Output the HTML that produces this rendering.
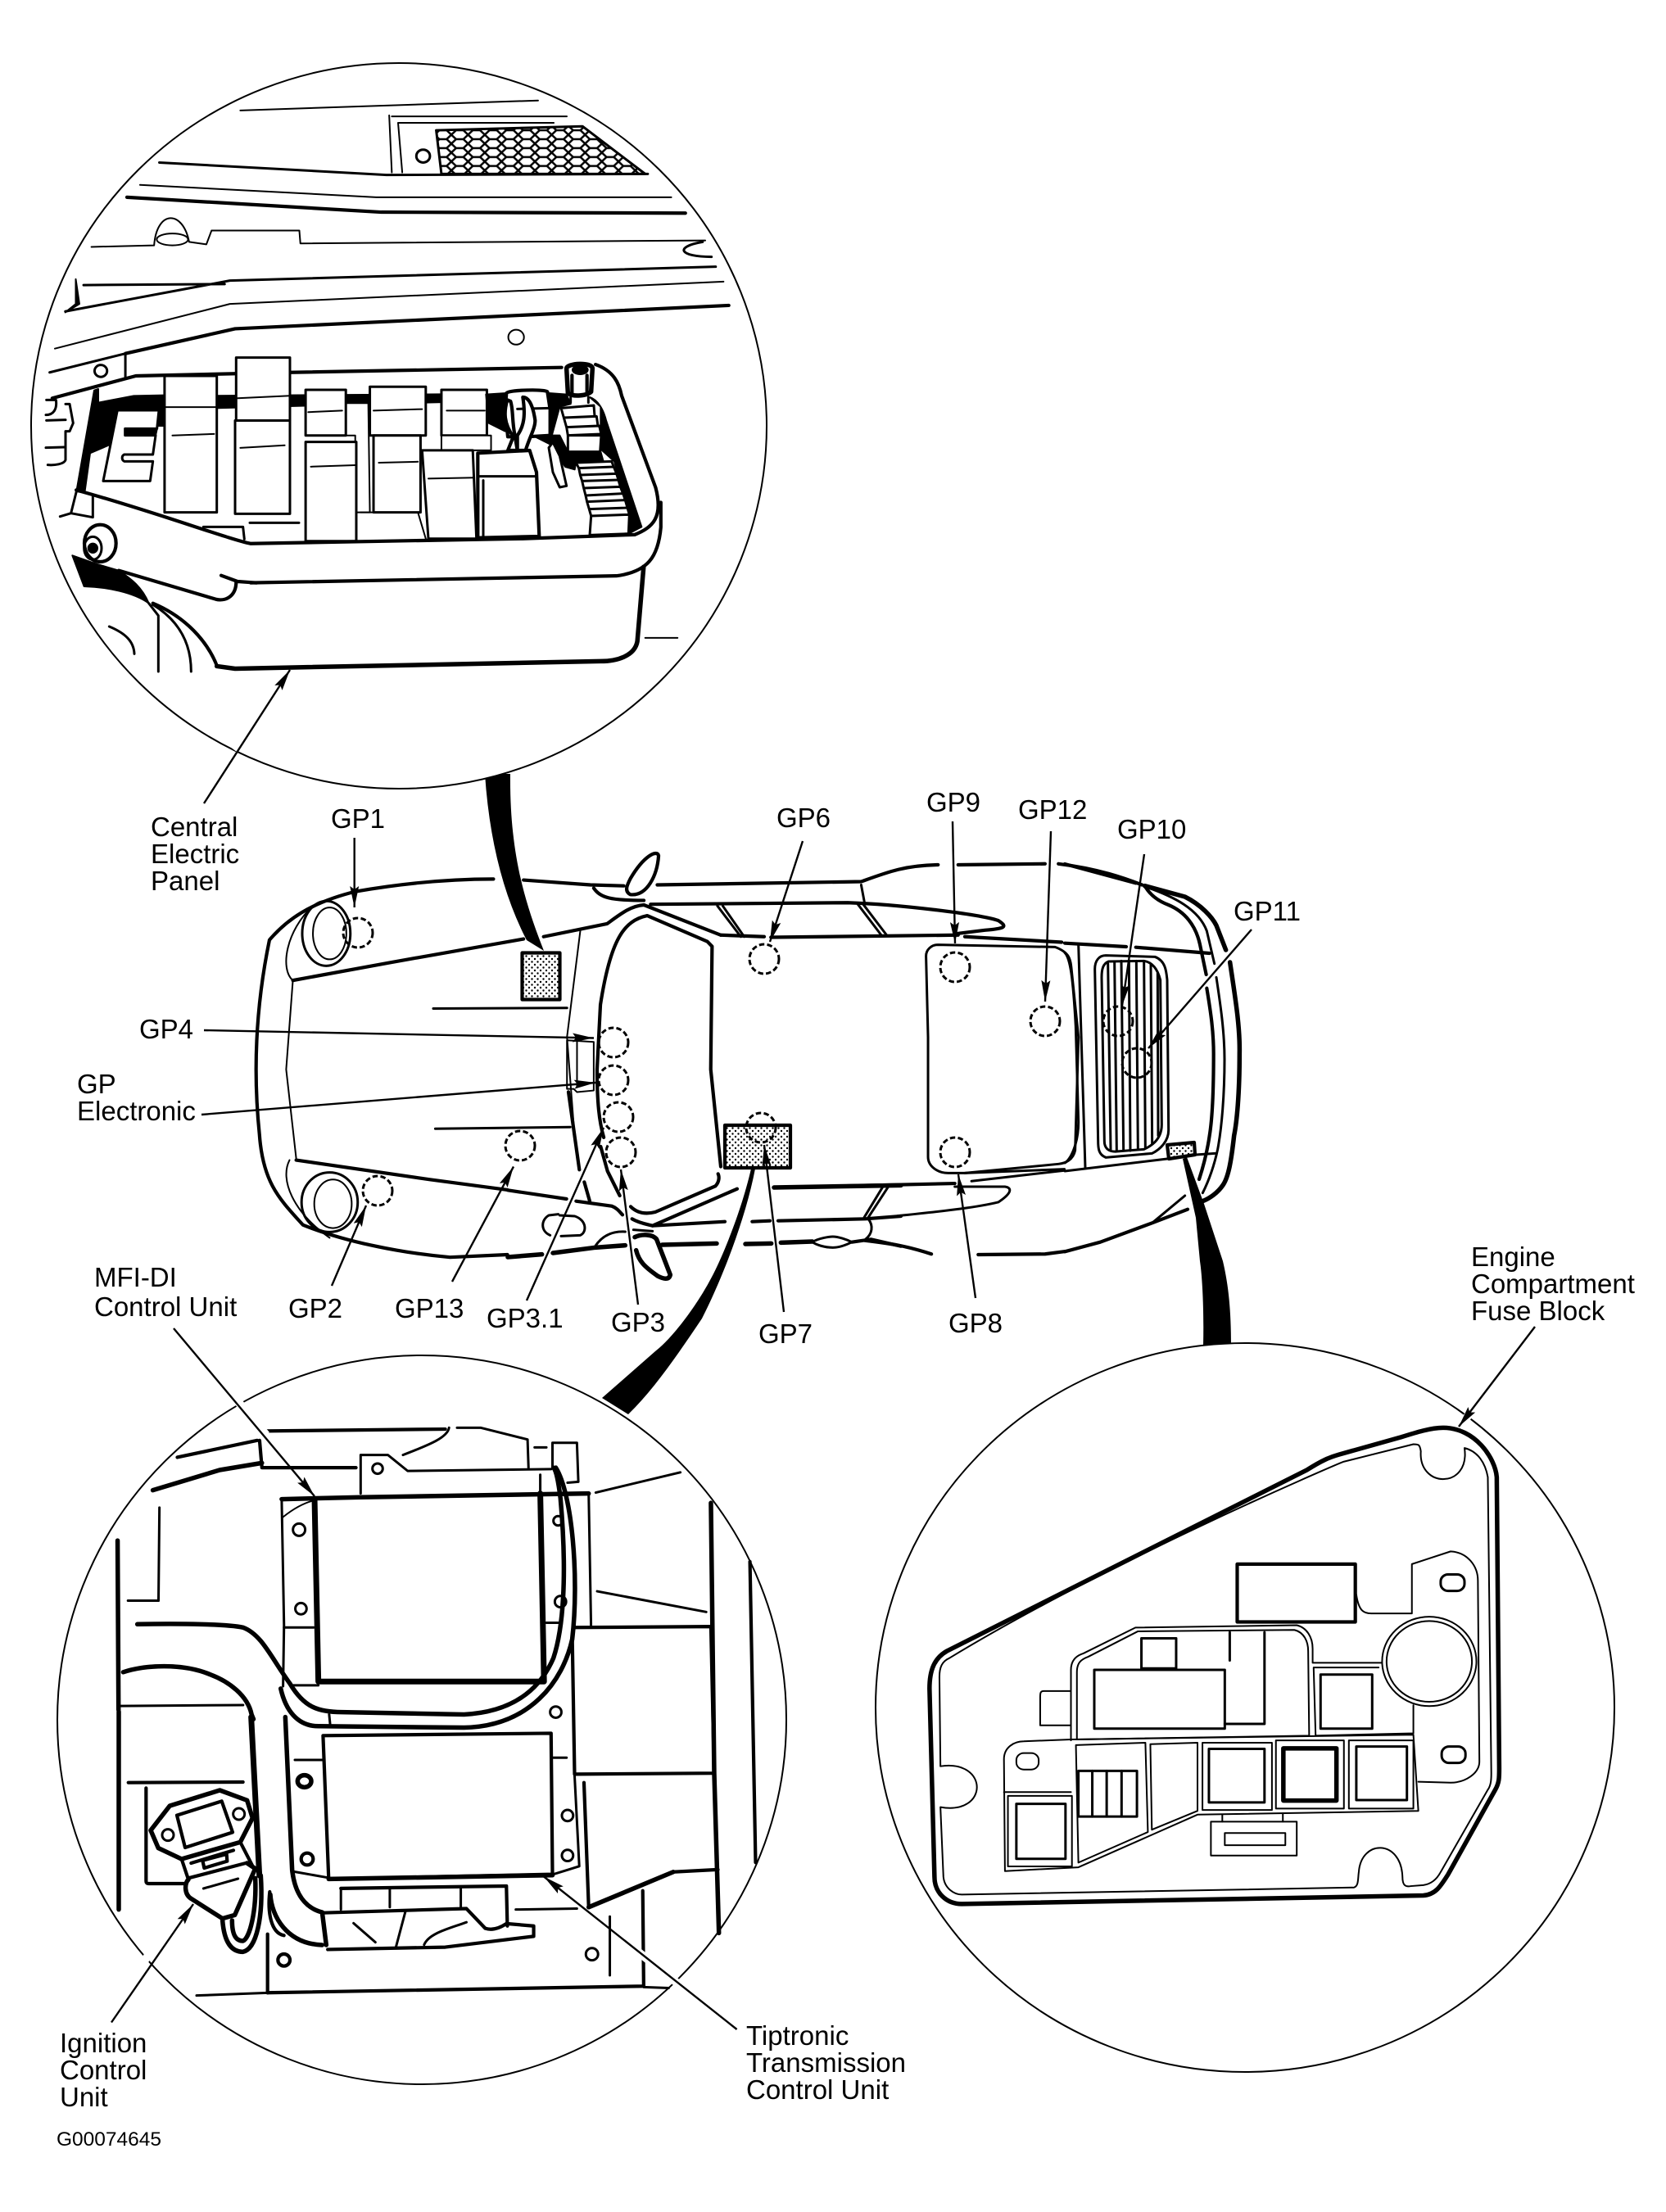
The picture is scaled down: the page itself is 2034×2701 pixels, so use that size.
<!DOCTYPE html>
<html><head><meta charset="utf-8"><style>
html,body{margin:0;padding:0;background:#fff}
svg{display:block}
text{font-family:"Liberation Sans",sans-serif;font-size:33px;fill:#000}
.g *{vector-effect:non-scaling-stroke}
.g path,.g circle,.g ellipse,.g rect,.g line,.g polygon{fill:none;stroke:#000;stroke-width:2;stroke-linejoin:round;stroke-linecap:round}
.g .w{fill:#fff}
.g .b{fill:#000;stroke:#000}
.g .t2{stroke-width:3}
.g .t3{stroke-width:4.2}
.g .t4{stroke-width:5.5}
.g .t5{stroke-width:7}
.g .d{stroke-dasharray:6.5 3.3;stroke-width:3;stroke-linecap:butt}
</style></head><body>
<svg width="2034" height="2701" viewBox="0 0 2034 2701" xmlns="http://www.w3.org/2000/svg">
<defs>
<pattern id="dots" width="7" height="7" patternUnits="userSpaceOnUse"><rect width="7" height="7" fill="#fff"/><circle cx="2" cy="2" r="1.2" fill="#000"/><circle cx="5.5" cy="5.5" r="1.2" fill="#000"/></pattern>
<pattern id="mesh" width="32" height="18" patternUnits="userSpaceOnUse"><rect width="32" height="18" fill="#fff"/><path d="M0 9L9 0L23 0L32 9L23 18L9 18Z" fill="#fff" stroke="#000" stroke-width="4"/></pattern>
<marker id="ah" markerUnits="userSpaceOnUse" markerWidth="28" markerHeight="14" refX="26" refY="7" orient="auto"><path d="M0 1.5L26 7L0 12.5L4 7Z" fill="#000"/></marker>
</defs>
<rect width="2034" height="2701" fill="#fff"/>

<!-- Thick connecting bands -->
<path d="M592,945 Q600,1065 643,1148 L664,1161 C640,1100 622,1040 623,945Z" fill="#000"/>
<path d="M917,1427 C905,1480 880,1540 867,1563 C850,1595 820,1635 800,1650 L735,1707 L767,1727 C800,1695 830,1650 857,1610 C880,1565 910,1490 922,1427Z" fill="#000"/>
<path d="M1444,1415 L1449,1413 L1470,1470 L1493,1540 C1500,1570 1503,1600 1503,1643 L1469,1643 C1470,1600 1468,1560 1465,1540 L1460,1487Z" fill="#000"/>

<!-- Circles -->
<g class="g">
<ellipse class="w" cx="487" cy="520" rx="449" ry="443"/>
<circle class="w" cx="515" cy="2100" r="445"/>
<ellipse class="w" cx="1520" cy="2085" rx="451" ry="445"/>
</g>

<!-- Circle 1 detail -->
<g class="g" transform="translate(0,50) scale(.6378,.6059)">
<path d="M460,140L1030,120"/>
<path d="M750,152L1085,152M745,150L750,265M762,165L1060,165M762,165L770,265"/>
<polygon points="835,180 1115,172 1235,268 845,268" style="fill:url(#mesh)" class="t2"/>
<circle cx="810" cy="232" r="13" class="t2"/>
<path d="M305,245L740,270L1240,268" class="t2"/>
<path d="M268,290L720,315L1285,315"/>
<path d="M243,315L730,345L1312,347" class="t3"/>
<path d="M175,415L295,412C300,340 350,340 362,405L395,410L405,382L573,382L575,408L1350,402"/>
<ellipse cx="330" cy="400" rx="30" ry="12"/>
<path d="M1345,405C1290,415 1300,435 1362,435" class="t2"/>
<path d="M160,492L430,490M125,545L440,483L1370,455" class="t2"/>
<path d="M105,620L440,530L1385,485"/>
<path d="M240,630L450,580L1395,533" class="t3"/>
<path d="M95,668L240,630L240,678" class="t2"/>
<polygon points="125,547 145,530 145,480 152,530" class="b"/>
<circle cx="988" cy="597" r="15"/><circle cx="193" cy="665" r="12" class="t2"/>
<path d="M100,720L260,675L555,668L1075,658" class="t3"/>
<path d="M410,715L845,712L845,728L410,740Z" class="b"/>
<path d="M315,675L415,675L415,950L315,950Z" class="w t2"/><path d="M315,738L415,738M330,795L410,792"/>
<path d="M452,638L555,638L555,765L452,765Z" class="w t2"/><path d="M455,720L555,715"/>
<path d="M450,765L555,765L555,953L450,953Z" class="w t2"/><path d="M460,820L545,815"/>
<path d="M662,730L705,730L708,950L680,950L680,795L662,795Z" class="w"/>
<path d="M585,703L662,703L662,795L585,795Z" class="w t2"/><path d="M590,748L655,745"/>
<path d="M585,808L682,808L682,1008L585,1008Z" class="w t2"/><path d="M595,858L680,855"/>
<path d="M690,950L800,950L815,1003"/>
<path d="M708,697L815,697L815,795L708,795Z" class="w t2"/><path d="M715,745L808,742"/>
<path d="M715,795L805,795L805,950L715,950Z" class="w t2"/><path d="M725,850L800,848"/>
<path d="M845,703L932,703L932,795L845,795Z" class="w t2"/><path d="M855,745L928,745"/>
<path d="M845,795L940,795L940,825L845,825Z" class="w"/>
<path d="M808,825L905,825L912,1003L820,1003Z" class="w t2"/><path d="M820,882L908,880"/>
<path d="M1140,652C1175,665 1185,690 1190,715L1255,900C1270,960 1250,980 1215,995L1000,1003L480,1013C440,1005 300,950 146,905" class="t3"/>
<path d="M480,1092L1180,1078C1240,1070 1260,1040 1265,980L1265,930" class="t3"/>
<path d="M1232,1060L1220,1210C1215,1240 1180,1250 1150,1250L450,1265L415,1260" class="t4"/>
<path d="M1235,1203L1297,1203"/>
</g>

<!-- Circle 1: left area override -->
<g class="g" transform="translate(30,400) scale(.33333)">
<path d="M255,230L190,600L220,605L240,460L310,430L340,305L510,295L510,248L400,250L270,275L270,225Z" class="b"/>
<path d="M490,303L510,295L510,360L490,360Z" class="b"/>
<path d="M340,303L492,303L485,370L368,370L368,395L480,395L470,465L365,465C355,470 355,485 365,490L470,490L460,562L288,562Z" class="w t2"/>
<path d="M368,370L485,372L480,395L368,395Z" class="b"/>
<path d="M190,600L170,680L130,692M170,680L250,695L250,620" class="t2"/>
<path d="M655,730L800,730L805,775M825,715L1005,715" class="t2"/>
<ellipse cx="277" cy="790" rx="58" ry="68" class="w t3"/><ellipse cx="250" cy="808" rx="32" ry="42" class="t2"/><circle cx="250" cy="808" r="17" class="b"/>
<path d="M175,835L218,948C300,950 400,970 455,1010C430,950 390,920 345,890L260,865Z" class="b"/>
<path d="M345,890L700,995C730,1003 775,990 775,930M720,908L780,930L850,935" class="t3"/>
<path d="M455,1010L490,1055L490,1260M470,1015C560,1070 610,1150 610,1260" class="t2"/>
<path d="M470,1010C590,1060 670,1150 705,1240" class="t3"/>
<path d="M310,1095C370,1120 400,1150 402,1195" class="t2"/>
<path d="M80,265L115,265C120,300 105,320 78,320M80,340L150,338M150,280L165,280L178,350L165,380L150,380L150,485C145,500 110,505 85,503M78,440L145,438" class="t2"/>
</g>

<!-- Circle 1: right area override -->
<g class="g" transform="translate(560,400) scale(.33333)">
<path d="M100,245L175,240L165,310L170,380L110,350Z" class="b"/>
<path d="M330,240L395,245L410,280L370,290L340,400L250,395L300,300Z" class="b"/>
<path d="M270,395L370,395L400,455L520,455L530,490L430,490L425,520L390,510L340,430Z" class="b"/>
<path d="M480,255C510,265 530,300 540,340L670,730C640,745 625,755 620,755L625,690L570,490L520,445L520,290Z" class="b"/>
<path d="M175,240C180,228 320,225 325,235L335,300L335,395L250,400L180,400L170,300Z" class="w t3"/>
<path d="M215,298L330,295" class="t2"/>
<path d="M178,265C165,310 165,350 200,400L180,450L215,450L205,390C195,340 200,300 190,270Z" class="w t3"/>
<path d="M235,255C250,255 270,270 280,340C280,370 260,400 245,450L215,450L215,395C240,360 245,320 235,255Z" class="w t3"/>
<path d="M70,460L260,450L285,530L295,765L70,770Z" class="w t3"/>
<path d="M75,545L285,545M90,560L90,770" class="t2"/>
<path d="M345,420L370,470L395,580L370,585L345,530L330,440Z" class="w t2"/>
<path d="M375,295L495,285L498,325L385,330ZM385,330L505,325L510,360L395,365ZM395,365L515,360L522,390L400,395ZM400,395L522,395L518,455L400,455Z" class="w t2"/>
<path d="M430,495L560,490L568,510L440,515ZM440,515L568,510L578,535L445,540ZM445,540L578,535L585,558L452,562ZM452,562L585,558L592,583L458,588ZM458,588L592,583L602,608L465,615ZM465,615L602,608L610,632L470,638ZM470,638L610,632L618,660L478,665ZM478,665L618,660L625,685L485,690ZM485,690L625,685L622,755L480,760Z" class="w t2"/>
<path d="M410,255L410,275M475,255L475,275" class="t2"/>
<path d="M395,150C395,130 490,125 490,150L485,235C470,250 420,255 400,240Z" class="w t4"/>
<ellipse cx="445" cy="155" rx="28" ry="16" class="b"/>
<path d="M415,175L415,240M470,175L470,240" class="t3"/>
</g>

<!-- Car -->
<g class="g" transform="translate(280,950) scale(.8163,.3954)">
<path d="M395,312C330,312 260,325 190,350C120,385 85,440 60,500C40,700 35,900 45,1100C50,1250 75,1300 110,1380C170,1430 250,1465 330,1480L416,1472" class="t3"/>
<path d="M440,315L540,330L590,333M640,330L945,320C985,290 1010,270 1060,268M1090,268L1220,265M1240,265C1300,280 1340,310 1365,330" class="t3"/>
<path d="M1250,1462L1220,1470L1120,1472M1050,1470C1020,1450 1000,1440 950,1428" class="t3"/>
<path d="M95,625C75,590 85,470 125,395M90,1180C75,1240 95,1340 150,1420"/>
<path d="M95,625L240,570L440,497M470,490L565,450C585,420 600,395 620,392L735,485" class="t3"/>
<path d="M100,1180L300,1240L416,1272" class="t3"/>
<path d="M95,625L85,900L100,1175"/>
<ellipse cx="145" cy="480" rx="36" ry="100" class="t2"/><ellipse cx="150" cy="480" rx="25" ry="80"/>
<ellipse cx="150" cy="1310" rx="42" ry="92" class="t2"/><ellipse cx="155" cy="1315" rx="28" ry="75"/>
<path d="M625,425C590,440 570,500 555,700L550,900C550,1000 553,1060 560,1110M722,520L720,900L735,1200M722,520L715,505L625,425" class="t3"/>
<path d="M525,470L505,800L515,1070"/>
<path d="M305,712L505,710M308,1083L510,1078" class="t2"/>
<path d="M505,810L545,815L545,965L520,970L515,960L505,960Z"/>
<path d="M520,810L520,955"/>
<path d="M600,310C620,240 640,220 642,240C640,300 625,365 600,360C590,350 595,330 600,310Z" class="w t3"/>
<path d="M545,340C555,370 570,378 620,378M630,390L925,385C1000,390 1120,420 1150,440C1165,460 1160,465 1130,470L1090,480" class="t3"/>
<path d="M735,485L800,490M810,492L1090,485M1100,490L1245,507" class="t3"/>
<path d="M730,395L765,490M738,395L770,490M940,390L975,485M948,390L983,485M945,330L950,385" class="t2"/>
<path d="M1060,515L1235,522C1258,540 1258,560 1260,600L1270,800L1265,1150C1262,1180 1250,1190 1240,1192L1100,1220L1075,1220C1060,1220 1045,1200 1045,1170L1045,800L1042,550C1042,530 1050,515 1060,515Z" class="t2"/>
<path d="M1100,1220L1249,1208M1110,1245L1249,1212" class="t2"/>
<path d="M815,1265L1085,1252" class="t3"/>
<path d="M1085,1262L1160,1262C1170,1265 1172,1280 1150,1310C1120,1325 1080,1335 1000,1352" class="t2"/>
</g>

<!-- Car: lower-mid override -->
<g class="g" transform="translate(620,1300) scale(.33333)">
<path d="M340,300L365,390L410,480" class="t3"/>
<path d="M222,100L262,385" class="t3"/>
<path d="M280,430L300,500" class="t3"/>
<path d="M0,460L215,492M250,500L380,518C400,525 410,540 420,550" class="t3"/>
<path d="M450,520C470,540 500,550 540,540L760,445C775,430 775,410 770,400" class="t3"/>
<path d="M530,590L840,455" class="t3"/>
<path d="M455,565C480,580 510,585 530,590L795,575M895,575L960,572M990,572L1310,565L1440,555" class="t3"/>
<path d="M975,450L1440,442" class="t4"/>
<path d="M1305,560L1375,445M1320,560L1395,445" class="t2"/>
<path d="M1320,565C1340,590 1335,620 1310,640" class="t2"/>
<path d="M0,705L125,695M165,690L320,670L430,662" class="t4"/>
<path d="M320,665C350,620 390,610 430,612M460,605L530,610" class="t2"/>
<path d="M465,632C490,620 530,620 545,640L595,770C590,790 570,785 550,775C500,740 480,720 470,680" class="w t4"/>
<path d="M565,660L765,655M870,657L965,655M1000,652L1115,648" class="t4"/>
<path d="M1115,650C1140,635 1180,630 1190,630C1210,630 1240,640 1260,650C1230,665 1210,670 1190,670C1160,670 1130,660 1115,650Z" class="t2"/>
<path d="M1260,650L1330,640L1440,665" class="t3"/>
<path d="M185,548L150,552C120,570 120,610 155,625M190,552L245,555C290,570 290,615 265,625L195,628" class="t2"/>
</g>

<!-- Car: rear override -->
<g class="g" transform="translate(1300,1020) scale(.33333)">
<path d="M0,105L260,175" class="t3"/>
<path d="M293,185L440,225C500,255 540,300 555,330L590,420M605,465C625,600 642,700 640,800C640,950 630,1050 620,1100C610,1190 600,1250 580,1280C560,1310 530,1330 505,1340" class="t4"/>
<path d="M293,185C310,215 340,240 380,255C440,280 480,330 495,400L518,510M520,560C535,650 545,720 545,800C545,950 540,1040 530,1100C520,1170 505,1220 492,1260" class="t3"/>
<path d="M300,190C400,225 490,270 520,350L548,470M555,520C570,620 585,720 585,820C585,950 575,1070 560,1150C545,1220 525,1270 505,1310" class="t2"/>
<path d="M0,395L225,408M260,410L530,432" class="t3"/>
<path d="M50,400L75,1220" class="t2"/>
<path d="M0,1230L375,1185M480,1170L550,1165" class="t2"/>
<path d="M150,440L330,445C370,460 372,500 375,530L380,1080C380,1120 350,1150 320,1165L150,1180C125,1170 122,1150 122,1120L110,490C110,460 125,440 150,440Z" class="t2"/>
<path d="M160,462C140,470 135,490 135,520L145,1120C145,1150 165,1160 190,1158L290,1150C335,1130 355,1100 355,1060L350,530C340,490 320,465 290,460Z" class="t2"/>
<path d="M158,470L168,1150M182,462L190,1155M207,460L215,1155M235,460L240,1155M262,460L268,1150M290,462L295,1145M315,475L320,1130M340,505L342,1100" class="t2"/>
<path d="M0,430C20,450 30,520 40,700L50,1050C50,1130 20,1190 0,1200" class="t2"/>
<path d="M0,1525L130,1490L320,1420L450,1370" class="t3"/>
<path d="M320,1420L440,1320" class="t2"/>
</g>

<!-- dotted rects -->
<g class="g">
<rect x="637.5" y="1163.5" width="46" height="57" style="fill:url(#dots)" class="t3"/>
<rect x="885" y="1374" width="80" height="52" style="fill:url(#dots)" class="t3"/>
<path d="M1425,1398L1458,1395L1459,1410L1427,1415Z" style="fill:url(#dots)" class="t3"/>
<!-- dashed circles -->
<circle class="d" cx="437" cy="1139" r="18"/>
<circle class="d" cx="933" cy="1171" r="18"/>
<circle class="d" cx="1166" cy="1181" r="18"/>
<circle class="d" cx="1276" cy="1247" r="18"/>
<circle class="d" cx="1365" cy="1247" r="18"/>
<circle class="d" cx="1388" cy="1298" r="18"/>
<circle class="d" cx="749" cy="1273" r="18"/>
<circle class="d" cx="749" cy="1319" r="18"/>
<circle class="d" cx="755" cy="1364" r="18"/>
<circle class="d" cx="758" cy="1407" r="18"/>
<circle class="d" cx="635" cy="1399" r="18"/>
<circle class="d" cx="461" cy="1454" r="18"/>
<circle class="d" cx="929" cy="1377" r="18"/>
<circle class="d" cx="1166" cy="1407" r="18"/>
</g>

<!-- Circle 3 detail -->
<g class="g" transform="translate(50,1640) scale(.574)">
<path d="M475,187L860,183" class="t3"/><path d="M868,180C865,200 830,215 770,238M885,180L935,180L1035,205L1037,265" class="t2"/>
<path d="M290,243L460,207M465,207L470,265L670,265" class="t3"/><path d="M238,313L380,270L470,255" class="t4"/>
<path d="M680,320L680,238L738,238L780,272L1085,268" class="t2"/><circle cx="716" cy="267" r="11" class="t2"/>
<path d="M1050,222L1075,222M1088,265L1088,212L1140,212L1143,295L1120,297M1062,280L1062,315" class="t2"/>
<path d="M512,332L680,328L1165,320" class="t4"/><path d="M512,332L517,600L515,730" class="t2"/>
<path d="M582,335L590,720L1070,720L1062,320" class="t5"/>
<path d="M515,370C540,350 560,340 580,335"/><circle cx="549" cy="397" r="13" class="t2"/><circle cx="553" cy="565" r="12" class="t2"/>
<path d="M517,605L580,605M537,728L590,728M1165,320L1170,600M1180,318L1360,275M1183,528L1415,572" class="t2"/>
<path d="M1135,605L1425,603L1432,915L1135,917L1130,620" class="t3"/>
<path d="M1425,340L1432,915L1442,1255" class="t4"/><path d="M1508,465L1520,1105" class="t3"/>
<path d="M163,420L165,780" class="t4"/><path d="M252,350L250,548L185,548" class="t2"/>
<circle cx="1100" cy="378" r="10" class="t2"/><circle cx="1105" cy="550" r="12" class="t2"/>
<path d="M205,598C300,596 400,598 430,605C470,620 490,670 530,725C560,775 590,785 640,785L900,790C1000,785 1060,740 1090,670C1110,610 1120,500 1105,330C1100,290 1095,270 1090,265" class="t4"/>
<path d="M175,700C220,685 300,680 360,705C400,720 440,750 448,790L452,800" class="t4"/>
<path d="M510,735C520,780 545,815 590,815L900,818C1040,815 1110,720 1130,630C1145,500 1130,320 1095,265" class="t4"/>
<path d="M168,772L430,770M1075,595L1105,595M613,790L615,810" class="t2"/>
<path d="M600,835L1085,830L1088,1130L612,1140Z" class="t3"/>
<path d="M612,1140L1088,1132" class="t4"/>
<path d="M1090,882L1118,882" class="t2"/>
<circle cx="1120" cy="1005" r="12" class="t2"/><circle cx="1120" cy="1090" r="12" class="t2"/><circle cx="1095" cy="785" r="12" class="t2"/>
<path d="M1090,1130L1145,1113L1135,920" class="t2"/>
<path d="M1155,935L1165,1200L1345,1125L1440,1120" class="t3"/>
<path d="M1165,1200L1345,1125" class="t4"/>
<path d="M600,1212L905,1203L945,1245C960,1250 975,1245 990,1235L1048,1240L1048,1262L860,1285L610,1290" class="t3"/>
<path d="M638,1160L990,1155L992,1240" class="t3"/>
<path d="M638,1160L638,1205M742,1160L742,1200M893,1160L893,1200M775,1210L755,1285M815,1280C825,1255 870,1245 905,1232M1010,1205L1140,1203" class="t2"/>
<path d="M482,1382L1282,1368L1280,1165" class="t3"/>
<path d="M1282,1370L1335,1372M1210,1220L1210,1345" class="t2"/>
<circle cx="1172" cy="1300" r="13" class="t2"/>
</g>

<!-- Circle 3: ignition override -->
<g class="g" transform="translate(130,2100) scale(.33333)">
<path d="M45,-30L45,695" class="t4"/>
<path d="M80,230L500,228" class="t3"/>
<path d="M145,250L145,590C145,600 150,600 160,600L285,600" class="t3"/>
<path d="M530,-10L560,570" class="t5"/>
<path d="M162,405L232,315L415,258L515,295L535,360L490,448L275,510L190,470Z" class="w t4"/>
<path d="M258,350L422,298L462,412L288,468Z" class="t3"/>
<circle cx="225" cy="422" r="21" class="t2"/><circle cx="485" cy="345" r="21" class="t2"/>
<path d="M275,510L300,585M490,448L540,545M310,525L465,478M352,515L440,492L442,518L358,543ZM300,580L510,525" class="t3"/>
<path d="M300,585C285,600 285,640 310,655L425,728L470,715L545,545L515,525" class="t4"/>
<path d="M355,618L482,582" class="t2"/>
<path d="M425,735C430,800 450,850 500,850C550,840 575,720 565,570" class="t4"/>
<path d="M460,735C460,790 475,810 500,810C525,800 550,700 545,580" class="t4"/>
<path d="M598,630C590,700 600,780 650,790" class="t3"/>
<path d="M600,640C605,720 660,820 790,825" class="t4"/>
<path d="M590,785L590,1000" class="t3"/>
<path d="M330,1010L590,1000" class="t2"/>
<path d="M655,-10L680,550C690,640 730,690 790,705L805,825" class="t4"/>
<path d="M905,745L985,815" class="t2"/>
<path d="M690,147L795,147M680,555L810,578" class="t2"/>
<ellipse cx="725" cy="225" rx="25" ry="22" class="t4"/><circle cx="735" cy="510" r="22" class="t3"/><circle cx="650" cy="880" r="22" class="t3"/>
</g>

<!-- Circle 4 detail -->
<g class="g" transform="translate(1050,1620) scale(.6059,.574)">
<path d="M205,1228L1135,1210C1160,1208 1170,1190 1185,1165L1280,985C1288,970 1288,960 1288,940L1283,320C1280,280 1240,215 1175,215C1150,215 1120,225 1090,235L965,272C945,278 930,285 900,305L175,690C150,705 140,730 140,770L150,1170C150,1205 175,1228 205,1228Z" class="t4"/>
<path d="M205,1208L995,1193C1005,1190 1003,1175 1005,1160C1010,1090 1090,1090 1093,1170C1093,1190 1100,1192 1110,1190L1135,1188C1155,1185 1165,1170 1170,1160L1265,985C1272,975 1272,960 1272,950L1265,320C1260,290 1245,265 1218,258C1230,345 1125,345 1130,265C1128,250 1125,250 1115,250L975,287C955,295 500,500 180,705C165,712 160,725 160,745L162,935C260,920 260,1040 162,1022L168,1170C170,1195 190,1208 205,1208Z"/>
<path d="M760,505L998,505L998,628L760,628Z" class="t3"/>
<path d="M1000,570C1005,605 1015,610 1030,610L1112,610L1112,505L1190,478C1225,480 1245,510 1245,540L1248,925C1248,950 1220,970 1190,970L1125,968"/>
<rect x="1170" y="527" width="48" height="35" rx="15" ry="15" class="t2"/>
<rect x="1172" y="893" width="48" height="35" rx="15" ry="15" class="t2"/>
<rect x="315" y="907" width="45" height="35" rx="15" ry="15"/>
<circle cx="1147" cy="712" r="95" class="w"/><circle cx="1147" cy="712" r="86"/>
<path d="M425,880L425,730C425,710 435,700 450,695L555,640L880,635C900,640 912,660 912,685L912,715L1050,715M437,878L437,735C437,715 445,708 460,702L560,648L875,645C895,650 903,670 903,690L905,870Z"/>
<rect x="472" y="730" width="263" height="125" class="t2"/><rect x="567" y="663" width="70" height="64" class="t2"/>
<path d="M815,650L815,845L735,845M745,650L745,710" class="t2"/>
<path d="M423,775L370,775C363,775 363,780 363,790L363,848L423,848"/>
<path d="M914,725L1045,725M914,725L918,870L1115,865L1115,805"/><rect x="928" y="740" width="104" height="115" class="t2"/>
<path d="M425,878L1115,868L1125,1030L680,1038L440,1150L292,1158L290,920C290,895 310,882 330,882L425,878Z"/>
<path d="M435,890L575,885L580,1075L440,1140Z"/>
<rect x="440" y="945" width="118" height="97" class="t2"/><path d="M468,945V1042M497,945V1042M527,945V1042" class="t2"/>
<path d="M585,888L680,885L680,1030L588,1070Z"/>
<rect x="690" y="885" width="140" height="143"/><rect x="703" y="898" width="112" height="114" class="t2"/>
<rect x="838" y="880" width="137" height="145"/><rect x="853" y="897" width="107" height="111" class="t4"/>
<rect x="985" y="880" width="130" height="145"/><rect x="1000" y="893" width="102" height="114" class="t2"/>
<path d="M290,990L425,990"/><rect x="298" y="998" width="129" height="150"/><rect x="315" y="1015" width="99" height="117" class="t2"/>
<rect x="707" y="1053" width="173" height="72"/><rect x="735" y="1077" width="122" height="26"/>
<path d="M730,1038V1053M852,1035V1053"/>
</g>

<!-- Leaders (white halo where crossing circles) -->
<g fill="none" stroke="#fff" stroke-width="10">
<path d="M285,915L320,868"/>
<path d="M285,1705L325,1752"/>
<path d="M165,2410L215,2340"/>
<path d="M830,2424L760,2368"/>
<path d="M1800,1720L1781,1742"/>
</g>
<g fill="none" stroke="#000" stroke-width="2.4" marker-end="url(#ah)">
<path d="M249,981L354,818"/>
<path d="M432.7,1023L432.7,1108"/>
<path d="M980,1027L940,1150"/>
<path d="M1163,1003L1166,1152"/>
<path d="M1283,1015L1276,1223"/>
<path d="M1397,1043L1370,1228"/>
<path d="M1528,1135L1402,1280"/>
<path d="M249,1258L725,1267.5"/>
<path d="M246,1361L727,1322"/>
<path d="M552,1565L627,1424.5"/>
<path d="M405,1570L447,1472"/>
<path d="M643,1588L737,1377"/>
<path d="M779,1593L758,1428"/>
<path d="M957,1602L933,1398"/>
<path d="M1191,1585L1170,1434"/>
<path d="M212,1622L384,1827"/>
<path d="M136,2469.5L236,2325"/>
<path d="M899.6,2478L664,2291.5"/>
<path d="M1874,1620L1781,1742"/>
</g>

<!-- Labels -->
<text x="184" y="1021">Central</text><text x="184" y="1054">Electric</text><text x="184" y="1087">Panel</text>
<text x="404" y="1011">GP1</text>
<text x="948" y="1010">GP6</text>
<text x="1131" y="991">GP9</text>
<text x="1243" y="1000">GP12</text>
<text x="1364" y="1024">GP10</text>
<text x="1506" y="1124">GP11</text>
<text x="170" y="1268">GP4</text>
<text x="94" y="1335">GP</text><text x="94" y="1368">Electronic</text>
<text x="352" y="1609">GP2</text>
<text x="482" y="1609">GP13</text>
<text x="594" y="1621">GP3.1</text>
<text x="746" y="1626">GP3</text>
<text x="926" y="1640">GP7</text>
<text x="1158" y="1627">GP8</text>
<text x="115" y="1571">MFI-DI</text><text x="115" y="1607">Control Unit</text>
<text x="1796" y="1546">Engine</text><text x="1796" y="1579">Compartment</text><text x="1796" y="1612">Fuse Block</text>
<text x="73" y="2506">Ignition</text><text x="73" y="2539">Control</text><text x="73" y="2572">Unit</text>
<text x="911" y="2497">Tiptronic</text><text x="911" y="2530">Transmission</text><text x="911" y="2563">Control Unit</text>
<text x="69" y="2620" style="font-size:24.5px">G00074645</text>
</svg>
</body></html>
